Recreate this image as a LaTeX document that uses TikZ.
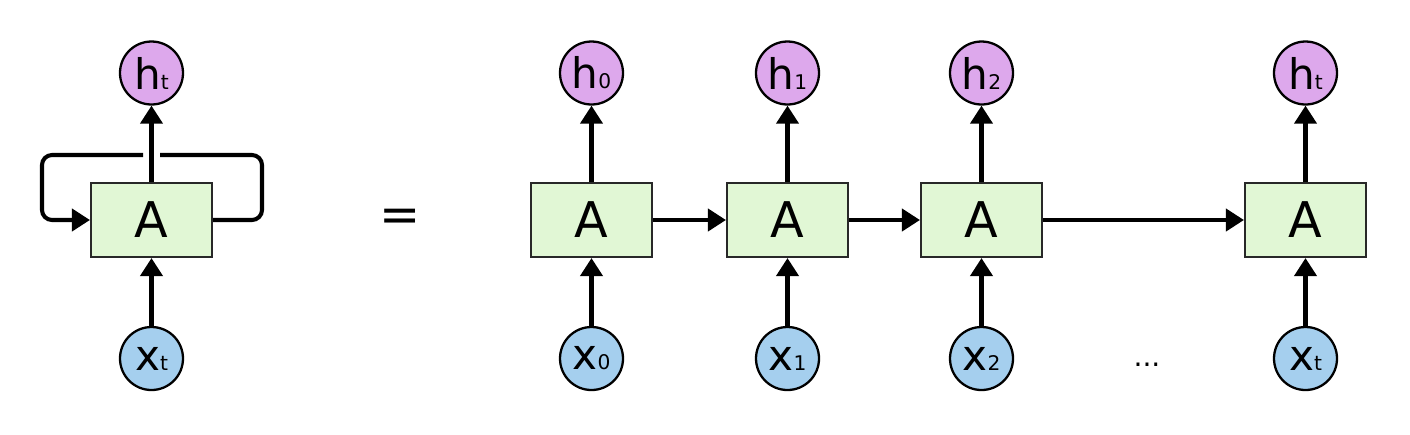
\documentclass[tikz,border=0pt]{standalone}
\usepackage{fontspec}
\setmainfont{DejaVu Sans}
\usetikzlibrary{arrows.meta}
\definecolor{cellfill}{RGB}{225,247,213}
\definecolor{hfill}{RGB}{221,168,236}
\definecolor{xfill}{RGB}{165,207,238}
\definecolor{edgegray}{RGB}{40,40,40}
\newcommand{\vsym}[2]{{\fontsize{24}{24}\selectfont #1}{\fontsize{11.5}{11.5}\selectfont #2}}

\begin{document}
\begin{tikzpicture}[
  cell/.style={draw=edgegray, line width=1.2pt, fill=cellfill, minimum width=2.42cm, minimum height=1.48cm, inner sep=0pt, font=\fontsize{28}{28}\selectfont},
  hout/.style={circle, draw=black, line width=1.3pt, fill=hfill, minimum size=1.26cm, inner sep=0pt},
  xin/.style={circle, draw=black, line width=1.3pt, fill=xfill, minimum size=1.26cm, inner sep=0pt},
  link/.style={line width=2.3pt, -{Triangle[length=0.36cm,width=0.44cm]}},
  loopline/.style={line width=2.3pt, rounded corners=0.2cm}
]
  \useasboundingbox (0,0) rectangle (28.2,-8.68);

  \node[cell] (AL) at (3.03, -4.40) {A};
  \node[hout] (hL) at (3.03, -1.46) {\vsym{h}{t}};
  \node[xin] (xL) at (3.03, -7.17) {\vsym{x}{t}};
  \coordinate (loopNE) at (5.24, -3.10);
  \coordinate (loopNW) at (0.84, -3.10);
  \coordinate (gapR) at (3.20, -3.10);
  \coordinate (gapL) at (2.86, -3.10);
  \draw[link] (xL) -- (AL);
  \draw[link] (AL) -- (hL);
  \draw[loopline] (AL.east) -| (loopNE) -- (gapR);
  \draw[loopline, link] (gapL) -- (loopNW) |- (AL.west);

  \node[font=\fontsize{28}{28}\selectfont] (eq) at (8.0, -4.40) {=};

  \node[cell] (A0) at (11.83, -4.40) {A};
  \node[cell] (A1) at (15.75, -4.40) {A};
  \node[cell] (A2) at (19.63, -4.40) {A};
  \node[cell] (At) at (26.11, -4.40) {A};
  \node[hout] (h0) at (11.83, -1.46) {\vsym{h}{0}};
  \node[hout] (h1) at (15.75, -1.46) {\vsym{h}{1}};
  \node[hout] (h2) at (19.63, -1.46) {\vsym{h}{2}};
  \node[hout] (ht) at (26.11, -1.46) {\vsym{h}{t}};
  \node[xin] (x0) at (11.83, -7.17) {\vsym{x}{0}};
  \node[xin] (x1) at (15.75, -7.17) {\vsym{x}{1}};
  \node[xin] (x2) at (19.63, -7.17) {\vsym{x}{2}};
  \node[xin] (xt) at (26.11, -7.17) {\vsym{x}{t}};
  \node[font=\fontsize{16}{16}\selectfont] (dots) at (22.94, -7.30) {...};

  \draw[link] (x0) -- (A0);
  \draw[link] (x1) -- (A1);
  \draw[link] (x2) -- (A2);
  \draw[link] (xt) -- (At);
  \draw[link] (A0) -- (h0);
  \draw[link] (A1) -- (h1);
  \draw[link] (A2) -- (h2);
  \draw[link] (At) -- (ht);
  \draw[link] (A0) -- (A1);
  \draw[link] (A1) -- (A2);
  \draw[link] (A2) -- (At);
\end{tikzpicture}
\end{document}
